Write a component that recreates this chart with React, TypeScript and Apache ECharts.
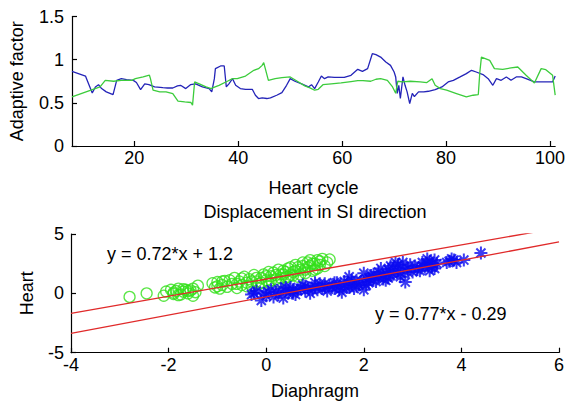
import React, { useEffect, useRef } from "react";
import * as echarts from "echarts";

// ---- Top plot: adaptive factor per heart cycle ----
const blueCycles = [8, 10.6, 10.8, 11.9, 12.5, 13.1, 13.7, 14.6, 15.9, 16.6, 17.5, 18.5, 19.8, 20.4, 21.2, 22.0, 22.8, 23.9, 25.5, 26.4, 27.4, 28.3, 28.9, 29.9, 30.8, 31.8, 33.1, 34.4, 34.9, 35.4, 35.6, 36.6, 37.3, 37.7, 38.2, 38.9, 39.5, 40.4, 41.4, 42.7, 43.3, 43.9, 44.6, 45.5, 46.2, 47.4, 48.4, 49.3, 50, 50.9, 52.2, 53.5, 54.1, 54.7, 55.4, 56.0, 56.6, 57.3, 58.5, 60.4, 61.7, 63, 63.9, 64.9, 65.8, 66.5, 67.4, 68.4, 69.3, 70, 70.3, 70.6, 70.9, 71.2, 71.7, 72.1, 72.5, 73, 73.5, 73.9, 74.7, 75.7, 76.6, 77.9, 79.2, 80.4, 81.4, 82.7, 83.9, 84.9, 85.8, 87.1, 88.1, 89, 89.7, 90.6, 91.6, 92.5, 93.5, 94.5, 95.4, 97, 100.5, 101];
const blueValues = [0.865, 0.81, 0.78, 0.615, 0.684, 0.71, 0.665, 0.627, 0.596, 0.76, 0.78, 0.77, 0.76, 0.735, 0.653, 0.72, 0.71, 0.684, 0.676, 0.672, 0.672, 0.696, 0.703, 0.665, 0.71, 0.72, 0.684, 0.665, 0.627, 0.78, 0.896, 0.927, 0.927, 0.684, 0.72, 0.78, 0.703, 0.665, 0.657, 0.657, 0.588, 0.55, 0.557, 0.55, 0.557, 0.588, 0.619, 0.703, 0.78, 0.75, 0.72, 0.684, 0.71, 0.665, 0.742, 0.81, 0.78, 0.8, 0.796, 0.796, 0.819, 0.888, 0.865, 0.896, 1.069, 1.058, 1.03, 0.973, 0.934, 0.857, 0.8, 0.61, 0.703, 0.55, 0.8, 0.703, 0.627, 0.492, 0.61, 0.573, 0.627, 0.627, 0.634, 0.653, 0.684, 0.742, 0.761, 0.8, 0.838, 0.877, 0.857, 0.827, 0.78, 0.703, 0.78, 0.761, 0.8, 0.761, 0.8, 0.8, 0.78, 0.742, 0.742, 0.81];

const greenCycles = [8, 13.4, 14.4, 16.0, 17.5, 19.5, 20.2, 21.7, 22.9, 23.1, 23.6, 24.9, 26.1, 27.4, 28.4, 29.7, 30.9, 31.2, 31.6, 32.5, 33.8, 34.8, 35.05, 36.3, 37.9, 38.9, 39.8, 41.4, 43, 43.9, 44.6, 44.9, 45.8, 47.1, 48.4, 50, 51.6, 52.8, 53.8, 54.7, 55.4, 56.3, 57.9, 59.8, 61.7, 63, 64, 65.5, 66.5, 67.4, 68.7, 69.7, 70.3, 70.7, 71.6, 73.1, 75, 76.3, 77.3, 77.9, 78.9, 80.1, 82, 83.9, 85.2, 86.2, 86.5, 86.8, 88.4, 89.3, 90.9, 92.5, 93.8, 95.4, 97, 98.3, 99.2, 100.5, 101];
const greenValues = [0.569, 0.684, 0.76, 0.75, 0.76, 0.76, 0.78, 0.8, 0.82, 0.78, 0.646, 0.627, 0.627, 0.608, 0.52, 0.511, 0.504, 0.473, 0.742, 0.72, 0.684, 0.665, 0.673, 0.703, 0.75, 0.78, 0.78, 0.81, 0.877, 0.896, 0.934, 0.965, 0.761, 0.78, 0.792, 0.8, 0.742, 0.696, 0.673, 0.646, 0.657, 0.71, 0.72, 0.73, 0.746, 0.757, 0.757, 0.75, 0.773, 0.78, 0.76, 0.684, 0.61, 0.75, 0.742, 0.75, 0.742, 0.735, 0.78, 0.703, 0.665, 0.646, 0.608, 0.57, 0.588, 0.596, 0.857, 1.03, 0.992, 0.896, 0.888, 0.904, 0.915, 0.819, 0.73, 0.896, 0.884, 0.819, 0.59];

const topXTicks = [20, 40, 60, 80, 100];

// ---- Bottom plot: displacement in SI direction ----
const greenDiaphragm = [-2.8, -2.45, -2.1, -2.05, -1.95, -1.9, -1.9, -1.85, -1.8, -1.8, -1.75, -1.7, -1.7, -1.65, -1.6, -1.6, -1.55, -1.5, -1.5, -1.45, -1.4, -1.1, -1.05, -1.0, -1.0, -0.95, -0.9, -0.9, -0.85, -0.8, -0.75, -0.7, -0.65, -0.6, -0.6, -0.55, -0.5, -0.5, -0.45, -0.4, -0.4, -0.35, -0.3, -0.3, -0.25, -0.2, -0.2, -0.15, -0.1, -0.1, -0.05, 0.0, 0.0, 0.05, 0.05, 0.1, 0.1, 0.15, 0.2, 0.2, 0.25, 0.25, 0.3, 0.3, 0.35, 0.35, 0.4, 0.4, 0.45, 0.45, 0.5, 0.5, 0.55, 0.55, 0.6, 0.6, 0.65, 0.65, 0.7, 0.7, 0.75, 0.75, 0.8, 0.8, 0.85, 0.85, 0.9, 0.9, 0.95, 0.95, 1.0, 1.0, 1.05, 1.05, 1.1, 1.1, 1.15, 1.2, 1.25, 1.3];
const greenHeart = [-0.3, 0.0, -0.2, 0.15, 0.3, -0.05, 0.05, 0.2, 0.4, -0.15, -0.1, 0.15, 0.35, 0.3, 0.0, 0.2, 0.25, -0.2, 0.4, 0.1, 0.65, 0.85, 0.5, 0.95, 0.6, 0.4, 0.7, 1.0, 1.05, 0.55, 1.1, 0.8, 1.3, 0.45, 0.8, 1.0, 0.7, 1.25, 1.4, 0.9, 0.6, 1.2, 0.65, 1.0, 1.55, 1.0, 1.3, 0.8, 1.3, 0.9, 1.6, 1.1, 1.45, 0.9, 1.8, 1.45, 1.1, 1.75, 1.2, 1.55, 1.0, 2.0, 1.6, 1.3, 1.9, 1.6, 1.35, 1.8, 2.1, 1.4, 1.55, 2.2, 1.8, 1.5, 2.4, 1.9, 1.4, 2.2, 2.0, 1.6, 2.6, 2.3, 1.7, 2.0, 2.2, 2.6, 2.8, 2.3, 1.9, 2.5, 2.5, 2.0, 2.1, 2.8, 2.7, 2.4, 2.9, 2.3, 2.6, 2.85];

const blueDiaphragm = [-0.3, -0.25, -0.2, -0.1, -0.05, 0.0, 0.05, 0.1, 0.15, 0.2, 0.25, 0.3, 0.35, 0.4, 0.4, 0.45, 0.5, 0.55, 0.55, 0.6, 0.65, 0.7, 0.75, 0.8, 0.8, 0.85, 0.9, 0.95, 1.0, 1.0, 1.05, 1.1, 1.15, 1.2, 1.2, 1.25, 1.3, 1.35, 1.4, 1.4, 1.45, 1.5, 1.5, 1.55, 1.6, 1.6, 1.65, 1.7, 1.7, 1.75, 1.75, 1.8, 1.85, 1.85, 1.9, 1.95, 2.0, 2.0, 2.05, 2.05, 2.1, 2.1, 2.15, 2.2, 2.2, 2.25, 2.3, 2.3, 2.35, 2.4, 2.4, 2.45, 2.45, 2.5, 2.5, 2.55, 2.55, 2.6, 2.6, 2.65, 2.7, 2.7, 2.75, 2.75, 2.8, 2.8, 2.85, 2.9, 2.9, 2.95, 3.0, 3.05, 3.1, 3.15, 3.2, 3.2, 3.25, 3.3, 3.3, 3.35, 3.35, 3.4, 3.4, 3.45, 3.45, 3.5, 3.7, 3.75, 3.8, 3.85, 3.9, 4.05, 4.4];
const blueHeart = [-0.1, 0.0, 0.2, -0.6, 0.0, -0.2, 0.1, 0.3, -0.3, 0.1, -0.1, 0.4, -0.4, 0.2, 0.5, 0.0, 0.5, 0.3, 0.0, -0.1, 0.3, 0.4, 0.7, 0.2, 0.6, 0.5, 0.0, 0.3, 0.6, 0.9, 0.3, 0.8, 0.4, 0.5, 0.8, 0.2, 0.7, 0.5, 0.4, 0.9, 0.9, 0.6, 0.3, 0.1, 1.0, 0.7, 0.5, 1.4, 0.5, 0.8, 1.1, 0.4, 1.1, 0.6, 0.7, 1.0, 1.7, 0.3, 1.2, 0.7, 0.9, 1.3, 1.5, 1.1, 1.6, 1.0, 1.4, 1.8, 2.1, 1.2, 1.5, 1.7, 1.1, 1.3, 2.0, 2.3, 1.5, 1.6, 2.1, 2.6, 1.9, 2.4, 1.4, 1.7, 2.2, 2.6, 0.95, 1.8, 2.1, 2.4, 1.8, 2.3, 2.0, 1.9, 2.6, 2.3, 2.2, 2.9, 2.5, 1.9, 2.7, 2.5, 2.2, 2.1, 2.8, 2.5, 2.6, 2.7, 2.9, 2.8, 2.6, 2.8, 3.4];

// fitted lines: y = slope * x + intercept
const fitGreen = { slope: 0.72, intercept: 1.2, label: "y = 0.72*x + 1.2" };
const fitBlue = { slope: 0.77, intercept: -0.29, label: "y = 0.77*x - 0.29" };
const fitRange = [-4, 6];

const FONT = "'Liberation Sans', Arial, Helvetica, sans-serif";
const FS = 18;

function zip(a: number[], b: number[]) {
  return a.map((v, i) => [v, b[i]]);
}
function fitLine(f: { slope: number; intercept: number }) {
  return fitRange.map((x) => [x, f.slope * x + f.intercept]);
}

const axisCommon = {
  axisLine: { show: true, onZero: false, lineStyle: { color: "#000", width: 1.2 } },
  axisTick: { show: true, inside: true, length: 5, lineStyle: { color: "#000", width: 1.2 } },
  splitLine: { show: false },
  nameTextStyle: { color: "#000", fontFamily: FONT, fontSize: FS },
};

const STAR = "path://M5 0L5 10M0 5L10 5M1.5 1.5L8.5 8.5M1.5 8.5L8.5 1.5";

export default function App() {
  const ref = useRef<HTMLDivElement>(null);
  useEffect(() => {
    if (!ref.current) return;
    const chart = echarts.init(ref.current, null, { renderer: "svg" });
    const labelStyle = { color: "#000", fontFamily: FONT, fontSize: FS };
    chart.setOption({
      animation: false,
      backgroundColor: "#fff",
      title: {
        text: "Displacement in SI direction",
        left: 315,
        top: 203,
        textAlign: "center",
        textStyle: { color: "#000", fontFamily: FONT, fontSize: FS, fontWeight: "normal" },
        padding: 0,
      },
      grid: [
        { left: 71, top: 16.5, width: 488, height: 129.5 },
        { left: 71, top: 234, width: 488, height: 118.7 },
      ],
      xAxis: [
        {
          ...axisCommon,
          gridIndex: 0,
          type: "value",
          min: 8,
          max: 101,
          name: "Heart cycle",
          nameLocation: "middle",
          nameGap: 33,
          axisTick: { ...axisCommon.axisTick, customValues: topXTicks },
          axisLabel: { ...labelStyle, margin: 3, customValues: topXTicks },
        },
        {
          ...axisCommon,
          gridIndex: 1,
          type: "value",
          min: -4,
          max: 6,
          interval: 2,
          name: "Diaphragm",
          nameLocation: "middle",
          nameGap: 29,
          axisLabel: { ...labelStyle, margin: 3, showMaxLabel: true, showMinLabel: true },
        },
      ],
      yAxis: [
        {
          ...axisCommon,
          gridIndex: 0,
          type: "value",
          min: 0,
          max: 1.5,
          interval: 0.5,
          name: "Adaptive factor",
          nameLocation: "middle",
          nameGap: 46,
          axisLabel: { ...labelStyle, margin: 8 },
        },
        {
          ...axisCommon,
          gridIndex: 1,
          type: "value",
          min: -5,
          max: 5,
          interval: 5,
          name: "Heart",
          nameLocation: "middle",
          nameGap: 35,
          axisLabel: { ...labelStyle, margin: 7 },
        },
      ],
      graphic: [
        {
          type: "text",
          left: 107,
          top: 245,
          style: { text: fitGreen.label, fill: "#000", font: `${FS}px ${FONT}` },
        },
        {
          type: "text",
          left: 375,
          top: 305,
          style: { text: fitBlue.label, fill: "#000", font: `${FS}px ${FONT}` },
        },
      ],
      series: [
        {
          type: "line",
          xAxisIndex: 0,
          yAxisIndex: 0,
          data: zip(blueCycles, blueValues),
          showSymbol: false,
          lineStyle: { color: "#2424b8", width: 1.3 },
        },
        {
          type: "line",
          xAxisIndex: 0,
          yAxisIndex: 0,
          data: zip(greenCycles, greenValues),
          showSymbol: false,
          lineStyle: { color: "#3ccc3c", width: 1.3 },
        },
        {
          type: "scatter",
          xAxisIndex: 1,
          yAxisIndex: 1,
          data: zip(greenDiaphragm, greenHeart),
          symbol: "circle",
          symbolSize: 11,
          itemStyle: { color: "rgba(0,0,0,0)", borderColor: "#33e01a", borderWidth: 1.3 },
        },
        {
          type: "scatter",
          xAxisIndex: 1,
          yAxisIndex: 1,
          data: zip(blueDiaphragm, blueHeart),
          symbol: STAR,
          symbolSize: 13,
          itemStyle: { color: "rgba(0,0,0,0)", borderColor: "#0a0af0", borderWidth: 2 },
        },
        {
          type: "line",
          xAxisIndex: 1,
          yAxisIndex: 1,
          data: fitLine(fitGreen),
          showSymbol: false,
          clip: true,
          lineStyle: { color: "#e02a2a", width: 1.3 },
          z: 5,
        },
        {
          type: "line",
          xAxisIndex: 1,
          yAxisIndex: 1,
          data: fitLine(fitBlue),
          showSymbol: false,
          clip: true,
          lineStyle: { color: "#e02a2a", width: 1.3 },
          z: 5,
        },
      ],
    });
    return () => chart.dispose();
  }, []);
  return (
    <div
      ref={ref}
      style={{ position: "absolute", left: 0, top: 0, width: 568, height: 402, background: "#fff" }}
    />
  );
}
